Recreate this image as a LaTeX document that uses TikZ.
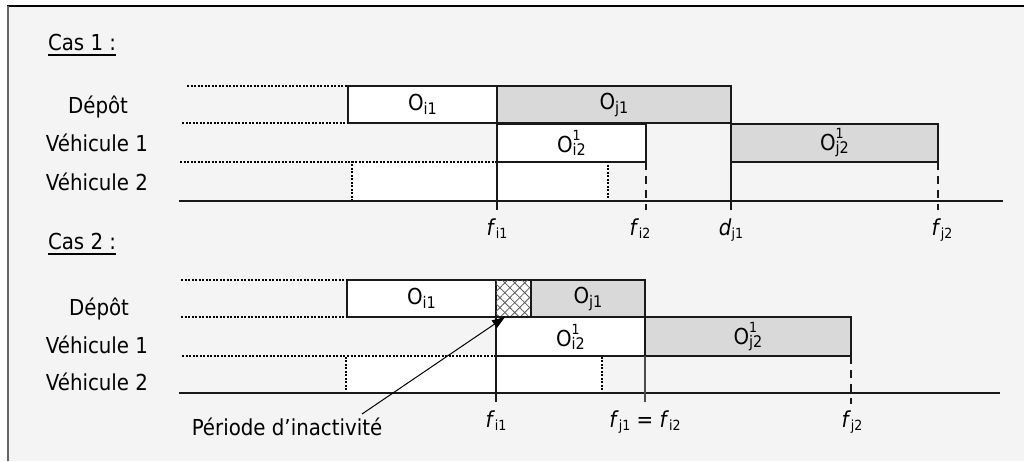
\documentclass[tikz,border=0pt]{standalone}
\usepackage{fontspec}
\setmainfont{DejaVuSansCondensed.ttf}[ItalicFont=DejaVuSansCondensed-Oblique.ttf]
\usetikzlibrary{patterns.meta,arrows.meta}
\definecolor{bgc}{HTML}{F4F4F4}
\definecolor{gfill}{HTML}{D9D9D9}
\newcommand\lsub[1]{\raisebox{-3pt}{\fontsize{14}{14}\selectfont #1}}
\newcommand\osub[1]{\raisebox{-4pt}{\fontsize{16}{16}\selectfont #1}}
\newcommand\Obox[1]{O\osub{#1}}
\newcommand\Oboxsup[2]{O\rlap{\raisebox{12pt}{\fontsize{14}{14}\selectfont #1}}\raisebox{-3pt}{\fontsize{16}{16}\selectfont #2}}
\newcommand\tlab[2]{\textit{#1}\lsub{#2}}
\tikzset{
  every node/.style={inner sep=0pt, outer sep=0pt},
  opbox/.style={draw=black!90, line width=1.2pt, anchor=north west, font=\fontsize{22}{22}\selectfont},
  wbox/.style={opbox, fill=white},
  gbox/.style={opbox, fill=gfill},
  vbox/.style={draw=black, line width=1.1pt, dash pattern=on 2pt off 1.5pt, fill=white, anchor=north west},
  rowline/.style={draw=black, line width=1.1pt, dash pattern=on 2pt off 1.5pt},
  axisline/.style={draw=black!90, line width=2.5pt},
  tick/.style={draw=black!90, line width=1.3pt},
  dtick/.style={draw=black!90, line width=1.4pt, dash pattern=on 8pt off 6pt},
  rowlab/.style={anchor=base, font=\fontsize{22}{22}\selectfont},
  title/.style={anchor=base west, font=\fontsize{22}{22}\selectfont},
  tlabel/.style={anchor=base, font=\fontsize{22}{22}\selectfont},
}
\begin{document}
\begin{tikzpicture}[x=1pt,y=-1pt]
\useasboundingbox (0,0) rectangle (1024,461);
\fill[white] (0,0) rectangle (1024,461);
\fill[bgc] (8,6) rectangle (1024,461);
\draw[line width=2pt, black] (7,6) -- (1024,6);
\draw[line width=2pt, black!60] (8,6) -- (8,461);

% ---------------- Cas 1 ----------------
\node[title] (c1) at (48,50) {Cas 1 :};
\draw[line width=1.3pt] ([yshift=-5pt]c1.base west) -- ([yshift=-5pt]c1.base east);

\node[rowlab] (d1) at (98,113) {Dépôt};
\node[rowlab] (va1) at (97,151) {Véhicule 1};
\node[rowlab] (vb1) at (97,190) {Véhicule 2};

\node[vbox, minimum width=256pt, minimum height=39pt] (v21) at (352,162) {};
\node[wbox, minimum width=149pt, minimum height=37pt] (oi11) at (348,86) {\Obox{i1}};
\node[gbox, minimum width=234pt, minimum height=37pt] (oj11) at (497,86) {\Obox{j1}};
\node[wbox, minimum width=149pt, minimum height=38pt] (oi21) at (497,124) {\Oboxsup{1}{i2}};
\node[gbox, minimum width=207pt, minimum height=38pt] (oj21) at (731,124) {\Oboxsup{1}{j2}};

\coordinate (r1a) at (187,86);
\coordinate (r1b) at (182,123);
\coordinate (r1c) at (180,162);
\draw[rowline] (r1a) -- (oi11.north west);
\draw[rowline] (r1b) -- (oi11.south west);
\draw[rowline] (r1c) -- (v21.north west);

\coordinate (ax1a) at (179,201);
\coordinate (ax1b) at (1003,201);
\draw[axisline] (ax1a) -- (ax1b);

\coordinate (t1a) at (497,210);
\coordinate (t1b) at (646,210);
\coordinate (t1c) at (731,210);
\coordinate (t1d) at (938,210);
\draw[tick] (oi21.south west) -- (t1a);
\draw[dtick] (oi21.south east) -- (t1b);
\draw[tick] (oj21.south west) -- (t1c);
\draw[dtick] (oj21.south east) -- (t1d);

\node[tlabel] (lf11) at (497,235) {\tlab{f}{i1}};
\node[tlabel] (lf12) at (640,235) {\tlab{f}{i2}};
\node[tlabel] (ld1) at (731,235) {\tlab{d}{j1}};
\node[tlabel] (lf13) at (942,235) {\tlab{f}{j2}};

% ---------------- Cas 2 ----------------
\node[title] (c2) at (48,249) {Cas 2 :};
\draw[line width=1.3pt] ([yshift=-5pt]c2.base west) -- ([yshift=-5pt]c2.base east);

\node[rowlab] (d2) at (99,315) {Dépôt};
\node[rowlab] (va2) at (97,353) {Véhicule 1};
\node[rowlab] (vb2) at (97,390) {Véhicule 2};

\node[vbox, minimum width=256pt, minimum height=37pt] (v22) at (346,356) {};
\node[wbox, minimum width=149pt, minimum height=37pt] (oi12) at (347,280) {\Obox{i1}};
\node[opbox, fill=white, minimum width=35pt, minimum height=37pt,
  postaction={pattern={Lines[angle=45,distance=7pt,line width=0.8pt]}, pattern color=black!65},
  postaction={pattern={Lines[angle=-45,distance=7pt,line width=0.8pt]}, pattern color=black!65}] (hat) at (496,280) {};
\node[gbox, minimum width=114pt, minimum height=37pt] (oj12) at (531,280) {\Obox{j1}};
\node[wbox, minimum width=149pt, minimum height=39pt] (oi22) at (496,317) {\Oboxsup{1}{i2}};
\node[gbox, minimum width=206pt, minimum height=39pt] (oj22) at (645,317) {\Oboxsup{1}{j2}};

\coordinate (r2a) at (181,280);
\coordinate (r2b) at (181,317);
\coordinate (r2c) at (182,356);
\draw[rowline] (r2a) -- (oi12.north west);
\draw[rowline] (r2b) -- (oi12.south west);
\draw[rowline] (r2c) -- (v22.north west);

\coordinate (ax2a) at (179,393);
\coordinate (ax2b) at (1000,393);
\draw[axisline] (ax2a) -- (ax2b);

\coordinate (t2a) at (496,402);
\coordinate (t2b) at (645,402);
\coordinate (t2c) at (851,404);
\draw[tick] (oi22.south west) -- (t2a);
\draw[tick, black!70] (oj22.south west) -- (t2b);
\draw[dtick] (oj22.south east) -- (t2c);

\node[tlabel] (lf21) at (496,427) {\tlab{f}{i1}};
\node[tlabel] (lf22) at (645,427) {\tlab{f}{j1} = \tlab{f}{i2}};
\node[tlabel] (lf23) at (852,427) {\tlab{f}{j2}};

\node[anchor=base, font=\fontsize{22}{22}\selectfont] (per) at (287,435) {Période d’inactivité};
\coordinate (ps) at (362,414);
\coordinate (tip) at (505,317);
\draw[line width=1pt, -{Triangle[length=13pt,width=9pt]}] (ps) -- (tip);
\end{tikzpicture}
\end{document}
